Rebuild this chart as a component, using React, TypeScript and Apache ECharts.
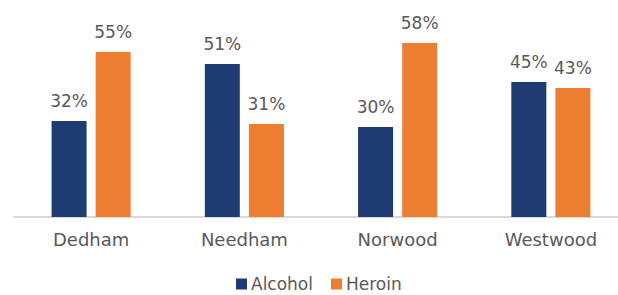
import React, { useEffect, useRef } from "react";
import * as echarts from "echarts";

const categories = ["Dedham", "Needham", "Norwood", "Westwood"];
const alcohol = [32, 51, 30, 45];
const heroin = [55, 31, 58, 43];
const seriesNames = ["Alcohol", "Heroin"];

const FONT = "DejaVu Sans";
const TEXT = "#595959";

export default function App() {
  const ref = useRef<HTMLDivElement>(null);
  useEffect(() => {
    if (!ref.current) return;
    const chart = echarts.init(ref.current, undefined, { renderer: "svg" });
    const label = {
      show: true,
      position: "top" as const,
      distance: 12,
      formatter: "{c}%",
      color: TEXT,
      fontSize: 17,
      fontFamily: FONT,
    };
    chart.setOption({
      animation: false,
      backgroundColor: "#ffffff",
      grid: { left: 14.5, width: 613, top: 37, height: 180 },
      legend: {
        left: 236,
        top: 275,
        padding: 0,
        itemWidth: 11,
        itemHeight: 11,
        itemGap: 18,
        icon: "rect",
        textStyle: { color: TEXT, fontSize: 17, fontFamily: FONT, lineHeight: 18, padding: [0, 0, 0, -1] },
        data: seriesNames,
      },
      xAxis: {
        type: "category",
        data: categories,
        axisLine: { show: true, lineStyle: { color: "#d9d9d9", width: 2 } },
        axisTick: { show: false },
        axisLabel: { color: TEXT, fontSize: 18, fontFamily: FONT, margin: 13 },
      },
      yAxis: {
        type: "value",
        min: 0,
        max: 60,
        show: false,
        splitLine: { show: false },
      },
      series: [
        {
          name: seriesNames[0],
          type: "bar",
          data: alcohol,
          barWidth: 35,
          barGap: "26%",
          itemStyle: { color: "#1f3c72" },
          label,
        },
        {
          name: seriesNames[1],
          type: "bar",
          data: heroin,
          barWidth: 35,
          barGap: "26%",
          itemStyle: { color: "#ed7d31" },
          label,
        },
      ],
    });
    return () => chart.dispose();
  }, []);
  return (
    <div
      ref={ref}
      style={{ position: "fixed", left: 0, top: 0, width: 640, height: 295, background: "#fff" }}
    />
  );
}
